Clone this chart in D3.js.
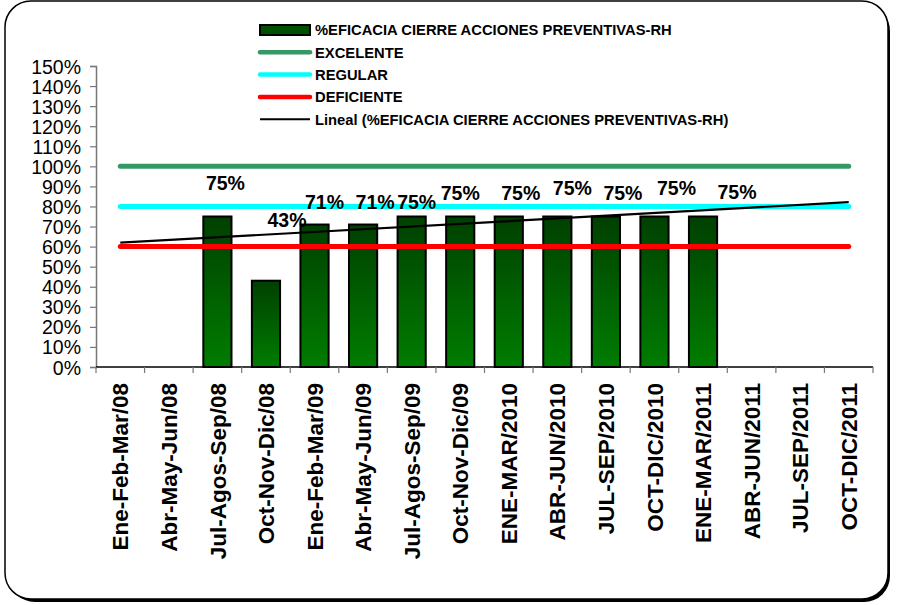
<!DOCTYPE html>
<html>
<head>
<meta charset="utf-8">
<script src="https://cdn.jsdelivr.net/npm/d3@7"></script>
<style>
  body { margin: 0; background: #fff; }
  svg text { font-family: Arial, "Liberation Sans", sans-serif; }
</style>
</head>
<body>
<div id="chart"></div>
<script>
// data
var periods = ["Ene-Feb-Mar/08", "Abr-May-Jun/08", "Jul-Agos-Sep/08", "Oct-Nov-Dic/08",
               "Ene-Feb-Mar/09", "Abr-May-Jun/09", "Jul-Agos-Sep/09", "Oct-Nov-Dic/09",
               "ENE-MAR/2010", "ABR-JUN/2010", "JUL-SEP/2010", "OCT-DIC/2010",
               "ENE-MAR/2011", "ABR-JUN/2011", "JUL-SEP/2011", "OCT-DIC/2011"]
var eficacia = [null, null, 75, 43, 71, 71, 75, 75, 75, 75, 75, 75, 75, null, null, null]
var excelente = 100
var regular = 80
var deficiente = 60
var yTicks = [0, 10, 20, 30, 40, 50, 60, 70, 80, 90, 100, 110, 120, 130, 140, 150]
var legendNames = ["%EFICACIA CIERRE ACCIONES PREVENTIVAS-RH", "EXCELENTE", "REGULAR", "DEFICIENTE",
                   "Lineal (%EFICACIA CIERRE ACCIONES PREVENTIVAS-RH)"]

// where excel left the data labels (px shift from the bar top centre)
var labelNudge = [null, null, [8, -34], [21, -61], [10, -23], [12, -23], [5, -15], [0, -24],
                  [12, -24], [15, -29], [17, -24], [22, -29], [34, -25], null, null, null]

var W = 898, H = 605
var svg = d3.select("#chart").append("svg")
            .attr("width", W)
            .attr("height", H)

// frame with shadow
svg.append("rect")
   .attr("x", 9).attr("y", 5)
   .attr("width", 881).attr("height", 597)
   .attr("rx", 26)
   .attr("fill", "#000")
svg.append("rect")
   .attr("x", 5).attr("y", 1)
   .attr("width", 883).attr("height", 598)
   .attr("rx", 26)
   .attr("fill", "#fff")
   .attr("stroke", "#000")
   .attr("stroke-width", 1.5)

var defs = svg.append("defs")
var grad = defs.append("linearGradient")
               .attr("id", "barGrad")
               .attr("x1", 0).attr("y1", 0).attr("x2", 0).attr("y2", 1)
grad.append("stop").attr("offset", "0%").attr("stop-color", "#004000")
grad.append("stop").attr("offset", "100%").attr("stop-color", "#007d00")

var plotLeft = 96, plotRight = 873, plotTop = 66, plotBottom = 367

var x = d3.scaleBand()
          .domain(periods)
          .range([plotLeft, plotRight])
          .padding(0)
var y = d3.scaleLinear()
          .domain([0, 150])
          .range([plotBottom, plotTop])

// y axis
var yAxis = svg.append("g")
               .attr("transform", "translate(" + plotLeft + ",0)")
               .call(d3.axisLeft(y).tickValues(yTicks).tickSize(6).tickPadding(9)
                       .tickFormat(function(d){ return d + "%" }))
yAxis.select(".domain").attr("stroke", "#777").attr("stroke-width", 1.5)
yAxis.selectAll(".tick line").attr("stroke", "#777").attr("stroke-width", 1.2)
yAxis.selectAll(".tick text")
     .attr("fill", "#000")
     .style("font-size", "19.5px")
     .attr("dy", "0.36em")

// bars
var barFrac = 0.58
periods.forEach(function(p, i){
    if(eficacia[i] === null) return
    var bw = x.bandwidth() * barFrac
    svg.append("rect")
       .attr("class", "bar")
       .attr("x", x(p) + (x.bandwidth() - bw) / 2)
       .attr("y", y(eficacia[i]))
       .attr("width", bw)
       .attr("height", y(0) - y(eficacia[i]))
       .attr("fill", "url(#barGrad)")
       .attr("stroke", "#000")
       .attr("stroke-width", 2)
})

// reference lines, centre of first band to centre of last band
var x0 = x(periods[0]) + x.bandwidth() / 2
var x1 = x(periods[periods.length - 1]) + x.bandwidth() / 2
var refs = [[excelente, "#339966"], [regular, "#00FFFF"], [deficiente, "#FF0000"]]
refs.forEach(function(r){
    svg.append("line")
       .attr("x1", x0).attr("x2", x1)
       .attr("y1", y(r[0])).attr("y2", y(r[0]))
       .attr("stroke", r[1])
       .attr("stroke-width", 5)
       .attr("stroke-linecap", "round")
})

// linear trend (least squares on the filled points, x = 1..n)
var pts = []
eficacia.forEach(function(v, i){ if(v !== null) pts.push([i + 1, v]) })
var mx = d3.mean(pts, function(d){ return d[0] })
var my = d3.mean(pts, function(d){ return d[1] })
var sxy = d3.sum(pts, function(d){ return (d[0] - mx) * (d[1] - my) })
var sxx = d3.sum(pts, function(d){ return (d[0] - mx) * (d[0] - mx) })
var slope = sxy / sxx
var icpt = my - slope * mx
svg.append("line")
   .attr("x1", x0).attr("x2", x1)
   .attr("y1", y(icpt + slope * 1))
   .attr("y2", y(icpt + slope * periods.length))
   .attr("stroke", "#000")
   .attr("stroke-width", 2.2)

// data labels
periods.forEach(function(p, i){
    if(eficacia[i] === null) return
    var n = labelNudge[i]
    svg.append("text")
       .attr("x", x(p) + x.bandwidth() / 2 + n[0])
       .attr("y", y(eficacia[i]) + n[1])
       .attr("text-anchor", "middle")
       .attr("dy", "0.36em")
       .style("font-size", "19.5px")
       .style("font-weight", "bold")
       .text(eficacia[i] + "%")
})

// x axis
svg.append("line")
   .attr("x1", plotLeft).attr("x2", plotRight)
   .attr("y1", plotBottom).attr("y2", plotBottom)
   .attr("stroke", "#000")
   .attr("stroke-width", 1.5)
var bounds = periods.map(function(p){ return x(p) })
bounds.push(plotRight)
bounds.forEach(function(bx){
    svg.append("line")
       .attr("x1", bx).attr("x2", bx)
       .attr("y1", plotBottom).attr("y2", plotBottom + 6)
       .attr("stroke", "#777")
       .attr("stroke-width", 1.2)
})
periods.forEach(function(p){
    var cx = x(p) + x.bandwidth() / 2
    svg.append("text")
       .attr("transform", "translate(" + cx + "," + (plotBottom + 16) + ") rotate(-90)")
       .attr("text-anchor", "end")
       .attr("dy", "0.36em")
       .style("font-size", "22.5px")
       .style("font-weight", "bold")
       .text(p)
})

// legend
var lg = svg.append("g").attr("transform", "translate(259,30)")
var rowH = 22.3
legendNames.forEach(function(name, i){
    var row = lg.append("g").attr("transform", "translate(0," + (i * rowH) + ")")
    if(i == 0){
        row.append("rect")
           .attr("x", 1).attr("y", -5)
           .attr("width", 50).attr("height", 10)
           .attr("fill", "#005000")
           .attr("stroke", "#000")
           .attr("stroke-width", 2)
    }else if(i == 4){
        row.append("line")
           .attr("x1", 1).attr("x2", 51)
           .attr("stroke", "#000")
           .attr("stroke-width", 2)
    }else{
        row.append("line")
           .attr("x1", 1).attr("x2", 51)
           .attr("stroke", refs[i - 1][1])
           .attr("stroke-width", 4.5)
           .attr("stroke-linecap", "round")
    }
    row.append("text")
       .attr("x", 56)
       .attr("dy", "0.36em")
       .style("font-size", "14.75px")
       .style("font-weight", "bold")
       .text(name)
})
</script>
</body>
</html>
